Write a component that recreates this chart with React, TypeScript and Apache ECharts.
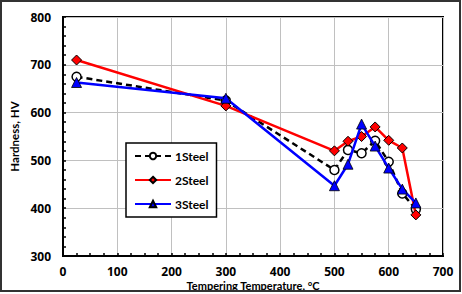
import React, { useEffect, useRef } from "react";
import * as echarts from "echarts";

const temps = [25, 300, 500, 525, 550, 575, 600, 625, 650];
const steel1 = [675, 625, 480, 522, 515, 541, 497, 431, 398];
const steel2 = [710, 614, 520, 540, 550, 570, 542, 526, 386];
const steel3 = [663, 630, 447, 492, 576, 530, 484, 440, 411];
const seriesNames = ["1Steel", "2Steel", "3Steel"];

const FONT = "'Open Sans', 'Noto Sans', sans-serif";
const FONT2 = "Lato, 'Open Sans', sans-serif";

export default function App() {
  const ref = useRef<HTMLDivElement>(null);
  useEffect(() => {
    document.body.style.margin = "0";
    const chart = echarts.init(ref.current!, null, { renderer: "svg" });
    const pair = (vals: number[]) => temps.map((t, i) => [t, vals[i]]);
    chart.setOption({
      animation: false,
      backgroundColor: "#fff",
      textStyle: { fontFamily: FONT },
      graphic: [
        {
          type: "rect",
          shape: { x: 1, y: 1, width: 459, height: 290 },
          style: { fill: "none", stroke: "#333", lineWidth: 2 },
          silent: true,
          z: 100,
        },
      ],
      grid: {
        left: 63,
        right: 19,
        top: 17,
        bottom: 38,
        outerBoundsMode: "none",
        containLabel: false,
        show: true,
        borderColor: "#000",
        borderWidth: 2,
        backgroundColor: "transparent",
      },
      legend: {
        orient: "vertical",
        left: 126,
        top: 143,
        padding: [7, 8, 7, 8],
        itemGap: 12,
        itemWidth: 36,
        itemHeight: 8,
        backgroundColor: "#fff",
        borderColor: "#000",
        borderWidth: 1.5,
        borderRadius: 0,
        textStyle: { fontFamily: FONT2, fontWeight: "bold", fontSize: 12, color: "#000", padding: [0, 0, 0, -1] },
        data: seriesNames,
      },
      xAxis: {
        type: "value",
        min: 0,
        max: 700,
        interval: 100,
        name: "Tempering Temperature, °C",
        nameLocation: "middle",
        nameGap: 24,
        nameMoveOverlap: false,
        nameTextStyle: { fontFamily: FONT2, fontWeight: "bold", fontSize: 11, color: "#000", lineHeight: 11 },
        axisLine: { show: true, lineStyle: { color: "#000", width: 2 } },
        axisTick: { show: true, inside: true, length: 3, lineStyle: { color: "#000", width: 1.5 } },
        minorTick: { show: true, splitNumber: 4, length: 3, lineStyle: { color: "#000", width: 1.5 } },
        axisLabel: { fontFamily: FONT, fontWeight: "bold", fontSize: 12, color: "#000", margin: 9, lineHeight: 12 },
        splitLine: { show: true, lineStyle: { color: "#c0c0c0", width: 1 } },
      },
      yAxis: {
        type: "value",
        min: 300,
        max: 800,
        interval: 100,
        name: "Hardness, HV",
        nameLocation: "middle",
        nameGap: 43,
        nameMoveOverlap: false,
        nameTextStyle: { fontFamily: FONT2, fontWeight: "bold", fontSize: 11.5, color: "#000" },
        axisLine: { show: true, lineStyle: { color: "#000", width: 2 } },
        axisTick: { show: true, inside: true, length: 3, lineStyle: { color: "#000", width: 1.5 } },
        minorTick: { show: true, splitNumber: 5, length: 3, lineStyle: { color: "#000", width: 1.5 } },
        axisLabel: { fontFamily: FONT, fontWeight: "bold", fontSize: 12, color: "#000", margin: 12 },
        splitLine: { show: true, lineStyle: { color: "#c0c0c0", width: 1 } },
      },
      series: [
        {
          name: seriesNames[0],
          type: "line",
          data: pair(steel1),
          symbol: "circle",
          symbolSize: 9,
          itemStyle: { color: "#fff", borderColor: "#000", borderWidth: 1.5 },
          lineStyle: { color: "#000", width: 2.5, type: [6, 4] },
          z: 2,
        },
        {
          name: seriesNames[1],
          type: "line",
          data: pair(steel2),
          symbol: "diamond",
          symbolSize: 10,
          itemStyle: { color: "#ff0000", borderColor: "#000", borderWidth: 1 },
          lineStyle: { color: "#ff0000", width: 2.5 },
          z: 3,
        },
        {
          name: seriesNames[2],
          type: "line",
          data: pair(steel3),
          symbol: "triangle",
          symbolSize: 10,
          itemStyle: { color: "#0000ff", borderColor: "#000", borderWidth: 0.8 },
          lineStyle: { color: "#0000ff", width: 2.5 },
          z: 4,
        },
      ],
    });
    return () => chart.dispose();
  }, []);
  return <div ref={ref} style={{ width: 462, height: 294 }} />;
}
